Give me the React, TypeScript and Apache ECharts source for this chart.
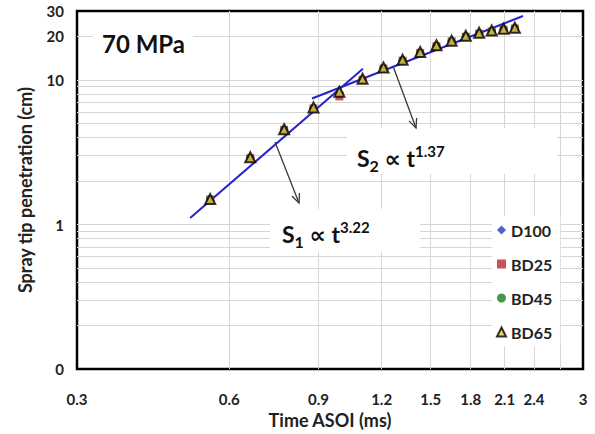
import React, { useEffect, useRef } from "react";
import * as echarts from "echarts";

const times = [0.55, 0.66, 0.77, 0.88, 0.99, 1.1, 1.21, 1.32, 1.43, 1.54, 1.65, 1.76, 1.87, 1.98, 2.09, 2.2];
const d100 = [1.48, 2.9, 4.5, 6.4, 8.2, 10.1, 12.1, 13.7, 15.5, 17.2, 18.6, 20.0, 21.0, 21.8, 22.4, 22.9];
const bd25 = [1.49, 2.88, 4.52, 6.35, 7.7, 10.0, 12.0, 13.6, 15.4, 17.1, 18.5, 19.9, 20.9, 21.6, 22.2, 22.7];
const bd45 = [1.5, 2.9, 4.55, 6.4, 8.1, 10.1, 12.1, 13.7, 15.5, 17.3, 18.6, 20.1, 21.1, 21.9, 22.5, 22.9];
const bd65 = [1.5, 2.92, 4.56, 6.46, 8.3, 10.2, 12.2, 13.8, 15.6, 17.4, 18.7, 20.2, 21.2, 22.0, 22.6, 23.0];

const fit1X = [0.502, 1.102];
const fit1Y = [1.11, 11.96];
const fit2X = [0.874, 2.283];
const fit2Y = [7.45, 27.7];

const xLabelValues = [0.3, 0.6, 0.9, 1.2, 1.5, 1.8, 2.1, 2.4, 3];
const xGridValues = [0.6, 0.9, 1.2, 1.5, 1.8, 2.1, 2.4, 2.7];
const yLabelValues = [0.1, 1, 10, 20, 30];
const yGridValues = [0.2, 0.3, 0.4, 0.5, 0.6, 0.7, 0.8, 0.9, 1, 2, 3, 4, 5, 6, 7, 8, 9, 10, 20];

const FONT = "Lato, 'DejaVu Sans', sans-serif";

function arrow(x1: number, y1: number, x2: number, y2: number) {
  const dx = x2 - x1, dy = y2 - y1;
  const len = Math.sqrt(dx * dx + dy * dy);
  const ux = dx / len, uy = dy / len;
  const L = 10, a = 0.42;
  const c = Math.cos(a), s = Math.sin(a);
  const p1 = [x2 - L * (ux * c - uy * s), y2 - L * (uy * c + ux * s)];
  const p2 = [x2 - L * (ux * c + uy * s), y2 - L * (uy * c - ux * s)];
  return [
    { type: "line", shape: { x1, y1, x2, y2 }, style: { stroke: "#3a3a3a", lineWidth: 1.3 }, z: 6 },
    { type: "polyline", shape: { points: [p1, [x2, y2], p2] }, style: { stroke: "#3a3a3a", lineWidth: 1.3, fill: null }, z: 6 },
  ];
}

function richLabel(x: number, y: number, sub: string, sup: string) {
  return {
    type: "text",
    x,
    y,
    z: 7,
    style: {
      text: `{m|S}{sub|${sub}}{m| \u221D t}{sup|${sup}}`,
      verticalAlign: "middle",
      rich: {
        m: { fontSize: 23, fontWeight: "bold", fontFamily: FONT, fill: "#111", lineHeight: 30 },
        sub: { fontSize: 16, fontWeight: "bold", fontFamily: FONT, fill: "#111", verticalAlign: "bottom" },
        sup: { fontSize: 15, fontWeight: "bold", fontFamily: FONT, fill: "#111", verticalAlign: "top" },
      },
    },
  };
}

export default function App() {
  const ref = useRef<HTMLDivElement>(null);
  useEffect(() => {
    if (!ref.current) return;
    const chart = echarts.init(ref.current, null, { renderer: "svg" });
    const pts = (vals: number[]) => times.map((t, i) => [t, vals[i]]);
    const option: any = {
      animation: false,
      backgroundColor: "#fff",
      grid: { left: 77, right: 12, top: 11, bottom: 63, show: true, borderColor: "#000", borderWidth: 2.5, backgroundColor: "transparent" },
      xAxis: {
        type: "log",
        logBase: 10,
        min: 0.3,
        max: 3,
        name: "Time ASOI (ms)",
        nameLocation: "middle",
        nameGap: 40,
        nameTextStyle: { fontFamily: FONT, fontWeight: "bold", fontSize: 18, color: "#222" },
        axisLine: { show: false },
        axisTick: { show: false, customValues: xGridValues },
        axisLabel: {
          customValues: xLabelValues,
          margin: 22,
          fontFamily: FONT,
          fontWeight: "bold",
          fontSize: 15,
          color: "#222",
          formatter: (v: number) => {
            const r = Math.round(v * 10) / 10;
            return r === 3 ? "3" : r.toFixed(1);
          },
        },
        splitLine: { show: true, lineStyle: { color: "#d6d6d6", width: 1 } },
      },
      yAxis: {
        type: "log",
        logBase: 10,
        min: 0.1,
        max: 30,
        name: "Spray tip penetration (cm)",
        nameLocation: "middle",
        nameGap: 43,
        nameTextStyle: { fontFamily: FONT, fontWeight: "bold", fontSize: 18, color: "#222" },
        axisLine: { show: false },
        axisTick: { show: false, customValues: yGridValues },
        axisLabel: {
          customValues: yLabelValues,
          margin: 13,
          fontFamily: FONT,
          fontWeight: "bold",
          fontSize: 15,
          color: "#222",
          formatter: (v: number) => (v < 0.5 ? "0" : String(Math.round(v))),
        },
        splitLine: { show: true, lineStyle: { color: "#d6d6d6", width: 1 } },
      },
      legend: {
        orient: "vertical",
        left: 492,
        top: 216,
        itemGap: 18,
        itemWidth: 9,
        itemHeight: 9,
        padding: [6, 8, 6, 4],
        backgroundColor: "#fff",
        textStyle: { fontFamily: FONT, fontWeight: "bold", fontSize: 16, color: "#222" },
        data: ["D100", "BD25", "BD45", "BD65"],
      },
      series: [
        { type: "line", name: "fit1", data: fit1X.map((x, i) => [x, fit1Y[i]]), symbol: "none", lineStyle: { color: "#2424c8", width: 2 }, z: 2 },
        { type: "line", name: "fit2", data: fit2X.map((x, i) => [x, fit2Y[i]]), symbol: "none", lineStyle: { color: "#2424c8", width: 2 }, z: 2 },
        { type: "scatter", name: "D100", data: pts(d100), symbol: "diamond", symbolSize: 9, itemStyle: { color: "#2338c8" }, z: 3 },
        { type: "scatter", name: "BD25", data: pts(bd25), symbol: "rect", symbolSize: 8, itemStyle: { color: "#c0262c" }, z: 3 },
        { type: "scatter", name: "BD45", data: pts(bd45), symbol: "circle", symbolSize: 8, itemStyle: { color: "#1f7a22" }, z: 3 },
        { type: "scatter", name: "BD65", data: pts(bd65), symbol: "triangle", symbolSize: 10, itemStyle: { color: "#e9c24a", borderColor: "#000", borderWidth: 2 }, z: 4 },
      ],
      graphic: [
        { type: "rect", shape: { x: 93, y: 24, width: 100, height: 36 }, style: { fill: "#fff" }, z: 1, silent: true },
        { type: "text", x: 102, y: 43, z: 7, style: { text: "70 MPa", fontFamily: FONT, fontWeight: "bold", fontSize: 24, fill: "#111", verticalAlign: "middle" } },
        { type: "rect", shape: { x: 270, y: 209, width: 150, height: 43 }, style: { fill: "#fff" }, z: 1, silent: true },
        richLabel(282, 234, "1", "3.22"),
        { type: "rect", shape: { x: 347, y: 128, width: 210, height: 46 }, style: { fill: "#fff" }, z: 1, silent: true },
        richLabel(357, 158, "2", "1.37"),
        ...arrow(275, 142, 299, 203),
        ...arrow(393, 66, 416, 128),
      ],
    };
    chart.setOption(option);
    return () => chart.dispose();
  }, []);
  return <div ref={ref} style={{ position: "fixed", left: 0, top: 0, width: 595, height: 434 }} />;
}
